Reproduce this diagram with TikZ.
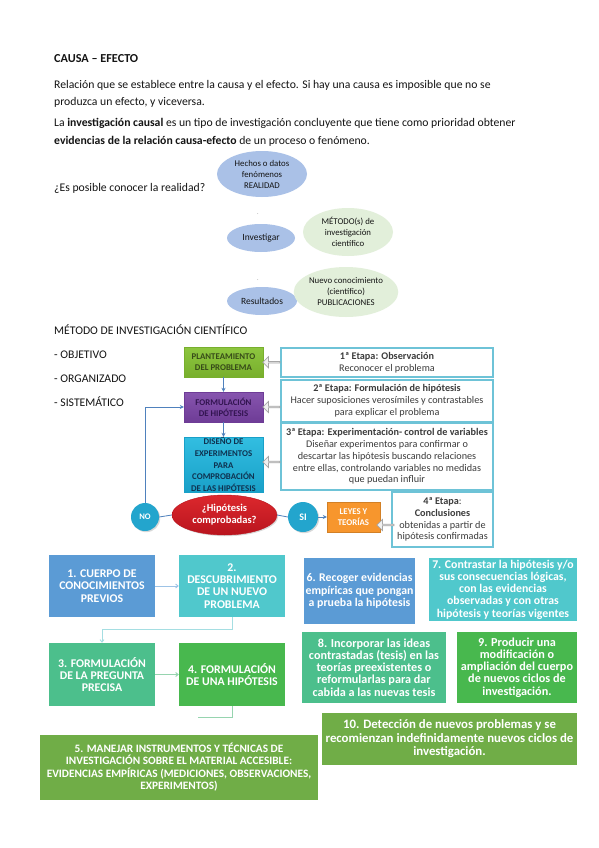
\documentclass[tikz,border=0pt]{standalone}
\usepackage{fontspec}
\setmainfont{Carlito}
\usetikzlibrary{shapes.geometric,shapes.arrows,arrows.meta,calc,shadows}
\definecolor{txt}{RGB}{20,20,20}
\definecolor{ellblue}{RGB}{170,193,231}
\definecolor{ellgreen}{RGB}{226,239,218}
\definecolor{plgreen}{RGB}{141,198,63}
\definecolor{plgreenD}{RGB}{120,175,45}
\definecolor{fpurple}{RGB}{135,85,175}
\definecolor{fpurpleD}{RGB}{110,60,150}
\definecolor{dcyan}{RGB}{50,190,225}
\definecolor{dcyanD}{RGB}{25,160,200}
\definecolor{ovred}{RGB}{220,40,45}
\definecolor{ovredD}{RGB}{185,20,30}
\definecolor{circ}{RGB}{35,165,205}
\definecolor{orng}{RGB}{247,150,45}
\definecolor{etb}{RGB}{110,195,215}
\definecolor{ettxt}{RGB}{60,60,60}
\definecolor{flowline}{RGB}{79,129,189}
\definecolor{cA}{RGB}{91,155,213}
\definecolor{cB}{RGB}{80,200,204}
\definecolor{cC}{RGB}{76,191,140}
\definecolor{cD}{RGB}{72,184,78}
\definecolor{cE}{RGB}{112,173,71}
\definecolor{lnA}{RGB}{157,195,230}
\definecolor{lnB}{RGB}{165,222,226}
\definecolor{lnC}{RGB}{150,212,175}
\begin{document}
\begin{tikzpicture}[x=1pt,y=-1pt,
  body/.style={anchor=base west, inner sep=0pt, text=txt, font=\fontsize{11.7}{13}\selectfont},
  ell/.style={ellipse, inner sep=0pt, align=center, text=txt, font=\fontsize{8.8}{11}\selectfont},
  shd/.style={drop shadow={opacity=0.3, shadow xshift=1.2pt, shadow yshift=-1.2pt}},
  fbx/.style={rectangle, inner sep=0pt, align=center, font=\fontsize{8.8}{11}\selectfont\bfseries, shd},
  etapa/.style={rectangle, draw=etb, line width=1.2pt, fill=white, inner sep=0pt, align=center, text=ettxt, font=\fontsize{10.2}{11.8}\selectfont},
  harrow/.style={single arrow, shape border rotate=180, draw=gray!70, fill=gray!12, line width=0.8pt, minimum height=17pt, minimum width=11pt, single arrow head extend=2.5pt, inner sep=0pt},
  fl/.style={draw=flowline, line width=0.8pt},
  fla/.style={fl, -{Stealth[length=4pt,width=4pt]}},
  bb/.style={rectangle, inner sep=0pt, align=center, text=white, font=\fontsize{11.8}{12.3}\selectfont\bfseries},
  bl/.style={line width=0.9pt, -{Straight Barb[length=2.5pt,width=4pt]}}
]
\useasboundingbox (0,0) rectangle (599,848);
\fill[white] (0,0) rectangle (599,848);

% ---------- text ----------
\node[body, font=\fontsize{12.2}{13}\selectfont\bfseries] (t0) at (54,62.5) {CAUSA – EFECTO};
\node[body] (t1) at (54,88.5) {Relación que se establece entre la causa y el efecto. Si hay una causa es imposible que no se};
\node[body] (t2) at (54,105.5) {produzca un efecto, y viceversa.};
\node[body] (t3) at (54,127) {La \textbf{investigación causal} es un tipo de investigación concluyente que tiene como prioridad obtener};
\node[body] (t4) at (54,144.5) {\textbf{evidencias de la relación causa-efecto} de un proceso o fenómeno.};
\node[body] (t5) at (54,191) {¿Es posible conocer la realidad?};

% ---------- ellipses ----------
\node[ell, fill=ellblue, minimum width=90pt, minimum height=46pt] (hech) at (262,174) {Hechos o datos\\fenómenos\\REALIDAD};
\node[ell, fill=ellblue, minimum width=68pt, minimum height=28pt, font=\fontsize{9.5}{11}\selectfont] (inv) at (261,238) {Investigar};
\node[ell, fill=ellgreen, minimum width=90pt, minimum height=48pt] (met) at (348,232) {MÉTODO(s) de\\investigación\\científico};
\node[ell, fill=ellblue, minimum width=70pt, minimum height=28pt, font=\fontsize{9.5}{11}\selectfont] (res) at (262,301) {Resultados};
\node[ell, fill=ellgreen, minimum width=92pt, minimum height=50pt] (nue) at (346,292) {Nuevo conocimiento\\(científico)\\PUBLICACIONES};
\node[inner sep=0pt, font=\fontsize{6}{6}\selectfont, text=gray] (d1) at (258,214) {.};
\node[inner sep=0pt, font=\fontsize{6}{6}\selectfont, text=gray] (d2) at (258,280) {.};

% ---------- method list ----------
\node[body] (m0) at (54,334) {MÉTODO DE INVESTIGACIÓN CIENTÍFICO};
\node[body] (m1) at (54,358) {- OBJETIVO};
\node[body] (m2) at (54,382) {- ORGANIZADO};
\node[body] (m3) at (54,406) {- SISTEMÁTICO};

% ---------- flow ----------
\node[fbx, top color=plgreen, bottom color=plgreenD, draw=plgreenD, text={rgb,255:red,55;green,75;blue,25}, minimum width=79pt, minimum height=30pt] (p1) at (223.5,362) {PLANTEAMIENTO\\DEL PROBLEMA};
\node[fbx, top color=fpurple, bottom color=fpurpleD, draw=fpurpleD, text={rgb,255:red,50;green,20;blue,80}, minimum width=79pt, minimum height=30pt] (p2) at (223.5,407) {FORMULACIÓN\\DE HIPÓTESIS};
\node[fbx, top color=dcyan, bottom color=dcyanD, draw=dcyanD, text={rgb,255:red,15;green,50;blue,80}, minimum width=79pt, minimum height=55pt, font=\fontsize{8.8}{11.6}\selectfont\bfseries] (p3) at (223.5,464.5) {DISEÑO DE\\EXPERIMENTOS\\PARA\\COMPROBACIÓN\\DE LAS HIPÓTESIS};
\node[ellipse, shd, top color=ovred, bottom color=ovredD, draw=ovredD, inner sep=0pt, minimum width=105pt, minimum height=40pt, align=center, text=white, font=\fontsize{10.5}{11.8}\selectfont\bfseries] (ov) at (224.5,515) {¿Hipótesis\\comprobadas?};
\node[circle, shd, fill=circ, inner sep=0pt, minimum size=28pt, text=white, font=\fontsize{8.5}{9}\selectfont\bfseries] (no) at (145,517) {NO};
\node[circle, shd, fill=circ, inner sep=0pt, minimum size=30pt, text=white, font=\fontsize{10}{10}\selectfont\bfseries] (si) at (303,517) {SI};
\node[fbx, fill=orng, draw=orng!85!black, text=white, minimum width=53pt, minimum height=30pt, font=\fontsize{8.8}{11.7}\selectfont\bfseries] (ley) at (353.5,517) {LEYES Y\\TEORÍAS};

\node[etapa, minimum width=212pt, minimum height=29pt] (e1) at (387,362.5) {\textbf{1ª Etapa: Observación}\\Reconocer el problema};
\node[etapa, minimum width=212pt, minimum height=42pt] (e2) at (387,401) {\textbf{2ª Etapa: Formulación de hipótesis}\\Hacer suposiciones verosímiles y contrastables\\para explicar el problema};
\node[etapa, minimum width=212pt, minimum height=67pt] (e3) at (387,456.5) {\textbf{3ª Etapa: Experimentación- control de variables}\\Diseñar experimentos para confirmar o\\descartar las hipótesis buscando relaciones\\entre ellas, controlando variables no medidas\\que puedan influir};
\node[etapa, minimum width=101pt, minimum height=55pt] (e4) at (442.5,519.5) {\textbf{4ª Etapa}:\\\textbf{Conclusiones}\\obtenidas a partir de\\hipótesis confirmadas};

\node[harrow] (a1) at ($(e1.west)!0.5!(p1.east)$) {};
\node[harrow] (a2) at ($(e2.west |- p2.east)!0.5!(p2.east)$) {};
\node[harrow] (a3) at ($(e3.west |- 0,462)!0.5!(p3.east |- 0,462)$) {};
\node[harrow] (a4) at ($(e4.west |- 0,525)!0.5!(ley.east |- 0,525)$) {};

\draw[fla] (p1.south) -- (p2.north);
\draw[fla] (p2.south) -- (p3.north);
\draw[fl] (no.east) -- (ov.west);
\draw[fl] (ov.east) -- (si.west);
\draw[fla] (si.east) -- (ley.west);
\draw[fla] (no.north) |- (p2.west);

% ---------- bottom boxes ----------
\node[bb, fill=cA, minimum width=106pt, minimum height=62pt] (b1) at (102,586) {1. CUERPO DE\\CONOCIMIENTOS\\PREVIOS};
\node[bb, fill=cB, minimum width=106pt, minimum height=62pt] (b2) at (232,586) {2.\\DESCUBRIMIENTO\\DE UN NUEVO\\PROBLEMA};
\node[bb, fill=cC, minimum width=106pt, minimum height=63pt] (b3) at (102,674.5) {3. FORMULACIÓN\\DE LA PREGUNTA\\PRECISA};
\node[bb, fill=cD, minimum width=106pt, minimum height=63pt] (b4) at (232,674.5) {4. FORMULACIÓN\\DE UNA HIPÓTESIS};
\node[bb, fill=cE, minimum width=278pt, minimum height=65pt, font=\fontsize{11.3}{12.4}\selectfont\bfseries] (b5) at (179,767) {5. MANEJAR INSTRUMENTOS Y TÉCNICAS DE\\INVESTIGACIÓN SOBRE EL MATERIAL ACCESIBLE:\\EVIDENCIAS EMPÍRICAS (MEDICIONES, OBSERVACIONES,\\EXPERIMENTOS)};
\node[bb, fill=cA, minimum width=111pt, minimum height=66pt, font=\fontsize{11.8}{12.6}\selectfont\bfseries] (b6) at (359.5,591) {6. Recoger evidencias\\empíricas que pongan\\a prueba la hipótesis};
\node[bb, fill=cB, minimum width=148pt, minimum height=63pt, font=\fontsize{11.8}{12.2}\selectfont\bfseries] (b7) at (503,589.5) {7. Contrastar la hipótesis y/o\\sus consecuencias lógicas,\\con las evidencias\\observadas y con otras\\hipótesis y teorías vigentes};
\node[bb, fill=cC, minimum width=144pt, minimum height=71pt, font=\fontsize{12.2}{12.2}\selectfont\bfseries] (b8) at (374,667.5) {8. Incorporar las ideas\\contrastadas (tesis) en las\\teorías preexistentes o\\reformularlas para dar\\cabida a las nuevas tesis};
\node[bb, fill=cD, minimum width=120pt, minimum height=71pt, font=\fontsize{12.2}{12.2}\selectfont\bfseries] (b9) at (517,667.5) {9. Producir una\\modificación o\\ampliación del cuerpo\\de nuevos ciclos de\\investigación.};
\node[bb, fill=cE, minimum width=255pt, minimum height=52pt, font=\fontsize{12.8}{13.5}\selectfont\bfseries] (b10) at (449.5,739) {10. Detección de nuevos problemas y se\\recomienzan indefinidamente nuevos ciclos de\\investigación.};

\coordinate (c5) at (198,717);
\draw[bl, draw=lnA] (b1.east) -- (b2.west);
\draw[bl, draw=lnB] (b2.south) -- ++(0,12) -| (b3.north);
\draw[bl, draw=lnC] (b3.east) -- (b4.west);
\draw[line width=0.9pt, draw=lnC] (b4.south) |- (c5);
\end{tikzpicture}
\end{document}
